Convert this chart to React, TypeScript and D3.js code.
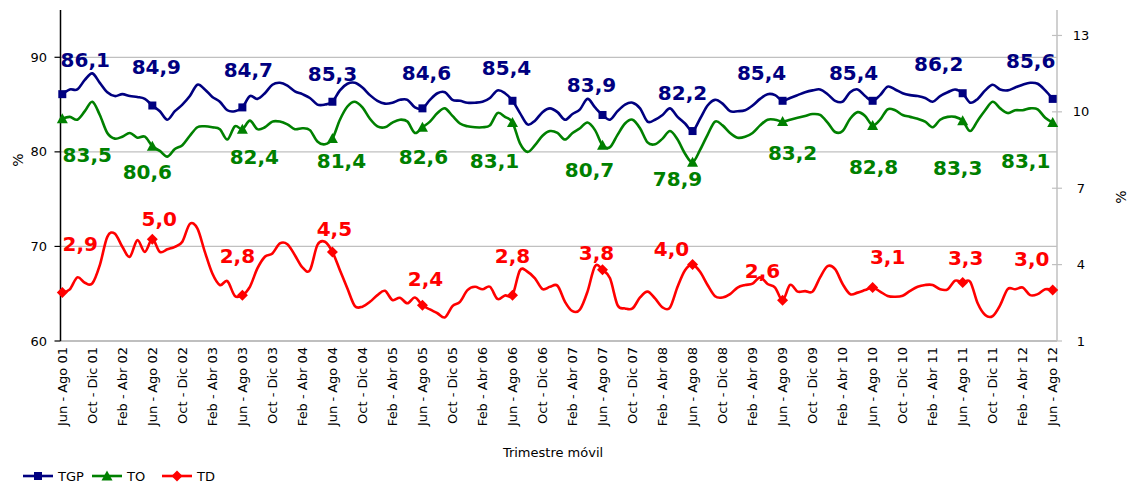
import React from 'react';
import * as d3 from 'd3';

const tickLabels = [
  'Jun - Ago 01', 'Oct - Dic 01', 'Feb - Abr 02', 'Jun - Ago 02', 'Oct - Dic 02', 'Feb - Abr 03',
  'Jun - Ago 03', 'Oct - Dic 03', 'Feb - Abr 04', 'Jun - Ago 04', 'Oct - Dic 04', 'Feb - Abr 05',
  'Jun - Ago 05', 'Oct - Dic 05', 'Feb - Abr 06', 'Jun - Ago 06', 'Oct - Dic 06', 'Feb - Abr 07',
  'Jun - Ago 07', 'Oct - Dic 07', 'Feb - Abr 08', 'Jun - Ago 08', 'Oct - Dic 08', 'Feb - Abr 09',
  'Jun - Ago 09', 'Oct - Dic 09', 'Feb - Abr 10', 'Jun - Ago 10', 'Oct - Dic 10', 'Feb - Abr 11',
  'Jun - Ago 11', 'Oct - Dic 11', 'Feb - Abr 12', 'Jun - Ago 12',
];

const leftTicks = [60, 70, 80, 90];
const rightTicks = [1, 4, 7, 10, 13];

const tgp = [
  86.1, 86.6, 86.6, 87.6, 88.3, 87.3, 86.3, 85.9, 86.1, 85.9, 85.8, 85.6,
  84.9, 84.3, 83.4, 84.3, 85.0, 85.9, 87.1, 86.6, 85.8, 85.3, 84.4, 84.3,
  84.7, 85.9, 85.6, 86.2, 87.1, 87.3, 87.0, 86.4, 86.1, 85.7, 85.0, 85.0,
  85.3, 86.5, 87.2, 87.3, 86.8, 86.0, 85.4, 85.1, 85.2, 85.5, 85.5, 84.7,
  84.6, 85.5, 86.2, 86.3, 85.5, 85.4, 85.2, 85.2, 85.3, 85.7, 86.5, 86.2,
  85.4, 84.1, 82.9, 83.3, 84.2, 84.6, 84.2, 83.4, 84.0, 84.5, 85.6, 84.7,
  83.9, 83.4, 84.3, 85.0, 85.2, 84.6, 83.2, 83.4, 83.9, 84.6, 83.7, 83.0,
  82.2, 83.5, 84.9, 85.5, 85.1, 84.3, 84.3, 84.4, 84.9, 85.6, 86.1, 86.0,
  85.4, 85.7, 86.0, 86.3, 86.5, 86.6, 86.1, 85.4, 85.3, 86.3, 86.6, 85.9,
  85.4, 86.0, 86.9, 86.6, 86.2, 86.0, 85.9, 85.7, 85.3, 85.9, 86.3, 86.6,
  86.2, 85.2, 85.6, 86.5, 87.1, 86.6, 86.5, 86.8, 87.1, 87.3, 87.2, 86.5,
  85.6,
];

const to = [
  83.5, 83.7, 83.4, 84.3, 85.3, 83.9, 82.0, 81.4, 81.6, 82.0, 81.5, 81.6,
  80.6, 80.1, 79.5, 80.3, 80.7, 81.7, 82.6, 82.7, 82.6, 82.4, 81.3, 82.7,
  82.4, 83.3, 82.4, 82.6, 83.2, 83.2, 82.9, 82.4, 82.5, 82.3, 81.1, 80.8,
  81.4, 83.4, 84.8, 85.3, 84.7, 83.5, 82.7, 82.6, 83.1, 83.4, 83.2, 82.0,
  82.6, 83.2, 84.1, 84.6, 83.8, 83.0, 82.7, 82.6, 82.6, 82.8, 84.1, 83.7,
  83.1, 80.9, 80.0, 80.7, 81.7, 82.2, 82.0, 81.3, 82.0, 82.5, 83.1, 82.3,
  80.7, 80.5, 81.8, 83.0, 83.4, 82.5, 81.0, 80.8, 81.4, 82.2, 81.3, 79.8,
  78.9, 80.2, 81.8, 83.2, 82.8, 82.0, 81.5, 81.6, 82.0, 82.8, 83.4, 83.4,
  83.2, 83.4, 83.6, 83.8, 84.0, 83.9, 83.1, 82.1, 82.2, 83.5, 84.2, 83.8,
  82.8, 83.4, 84.5, 84.4, 83.9, 83.7, 83.5, 83.2, 82.6, 83.4, 83.7, 83.7,
  83.3, 82.2, 83.3, 84.4, 85.3, 84.6, 84.1, 84.4, 84.4, 84.6, 84.5, 83.6,
  83.1,
];

const td = [
  2.9, 3.03, 3.5, 3.29, 3.26, 3.98, 5.09, 5.22, 4.7, 4.31, 4.96, 4.5,
  5.0, 4.5, 4.6, 4.7, 4.9, 5.6, 5.42, 4.5, 3.65, 3.2, 3.35, 2.77,
  2.8, 3.13, 3.85, 4.31, 4.44, 4.83, 4.8, 4.37, 3.89, 3.78, 4.77, 4.9,
  4.5, 3.78, 3.06, 2.37, 2.35, 2.54, 2.8, 2.97, 2.61, 2.7, 2.48, 2.71,
  2.4, 2.24, 2.09, 1.93, 2.37, 2.54, 3.0, 3.13, 3.03, 3.13, 2.65, 2.79,
  2.8, 3.78, 3.72, 3.46, 3.04, 3.13, 3.17, 2.54, 2.17, 2.24, 2.94, 3.94,
  3.8, 3.46, 2.41, 2.28, 2.28, 2.71, 2.94, 2.67, 2.32, 2.32, 3.13, 3.78,
  4.0, 3.72, 3.2, 2.76, 2.71, 2.84, 3.1, 3.2, 3.25, 3.5, 3.24, 3.1,
  2.6, 3.2, 2.94, 2.96, 2.94, 3.5, 3.94, 3.82, 3.24, 2.84, 2.9, 3.0,
  3.1, 2.94, 2.77, 2.74, 2.78, 2.97, 3.13, 3.2, 3.2, 3.03, 3.03, 3.37,
  3.3, 3.33, 2.48, 2.02, 1.98, 2.41, 3.04, 3.03, 3.1, 2.8, 2.84, 3.03,
  3.0,
];

// label placement offsets (px) relative to the marker, one per marked point
const tgpLabelOffset = [
  [23, -34], [4, -39], [6, -37], [0, -28], [4, -35], [-6, -33],
  [-11, -30], [-10, -38], [-21, -28], [-19, -28], [-24, -29], [-22, -38],
];
const toLabelOffset = [
  [25, 36], [-5, 26], [12, 28], [9, 22], [1, 30], [-18, 38],
  [-13, 25], [-15, 17], [10, 31], [1, 42], [-5, 47], [-27, 38],
];
const tdLabelOffset = [
  [18, -49], [7, -20], [-5, -39], [2, -23], [3, -26], [0, -39],
  [-6, -17], [-21, -16], [-20, -29], [15, -31], [3, -24], [-21, -31],
];

const NAVY = '#000080';
const GREEN = '#008000';
const RED = '#FF0000';
const GRID = '#c0c0c0';
const FONT = '"DejaVu Sans", Verdana, sans-serif';

const plotLeft = 60.5;
const plotRight = 1057;
const plotTop = 10;
const plotBottom = 341;

const x = d3.scaleLinear().domain([0, tgp.length - 1]).range([62.3, 1052.7]);
const yL = d3.scaleLinear().domain([60, 95]).range([plotBottom, plotTop]);
const yR = d3.scaleLinear().domain([1, 14]).range([plotBottom, plotTop]);

const markerIdx = d3.range(0, tgp.length, 12);
const fmt = (v: number) => d3.format('.1f')(v).replace('.', ',');

function Marker({ kind, cx, cy, color }: { kind: string; cx: number; cy: number; color: string }) {
  if (kind === 'square') {
    return <rect x={cx - 4} y={cy - 4} width={8} height={8} fill={color} />;
  }
  if (kind === 'triangle') {
    return <path d={`M${cx},${cy - 5.5} L${cx + 5.5},${cy + 4.5} L${cx - 5.5},${cy + 4.5} Z`} fill={color} />;
  }
  return <path d={`M${cx},${cy - 5.5} L${cx + 5.5},${cy} L${cx},${cy + 5.5} L${cx - 5.5},${cy} Z`} fill={color} />;
}

function Series({ data, y, color, kind }: any) {
  const line = d3
    .line<number>()
    .x((_, i) => x(i))
    .y((d) => y(d))
    .curve(d3.curveCardinal.tension(0));
  return (
    <g>
      <path d={line(data) || ''} fill="none" stroke={color} strokeWidth={2.6} strokeLinejoin="round" />
      {markerIdx.map((i) => (
        <Marker key={i} kind={kind} cx={x(i)} cy={y(data[i])} color={color} />
      ))}
    </g>
  );
}

function Labels({ data, y, color, offsets }: any) {
  return (
    <g>
      {markerIdx.map((i, k) => {
        const cx = x(i) + offsets[k][0];
        const cy = y(data[i]) + offsets[k][1];
        return (
          <text
            key={i}
            x={cx}
            y={cy}
            textAnchor="middle"
            dominantBaseline="central"
            fill={color}
            fontFamily={FONT}
            fontWeight="bold"
            fontSize={20}
          >
            {fmt(data[i])}
          </text>
        );
      })}
    </g>
  );
}

export default function App() {
  return (
    <svg
      width={1133}
      height={485}
      style={{ position: 'absolute', left: 0, top: 0, background: '#fff' }}
      fontFamily={FONT}
    >
      {/* gridlines */}
      {leftTicks.filter((t) => t !== 60).map((t) => (
        <line key={t} x1={plotLeft} x2={plotRight} y1={yL(t)} y2={yL(t)} stroke={GRID} strokeWidth={1.2} />
      ))}
      {/* axes */}
      <line x1={plotLeft} x2={plotRight} y1={plotBottom} y2={plotBottom} stroke="#808080" strokeWidth={1.2} />
      <line x1={plotRight} x2={plotRight} y1={plotTop} y2={plotBottom} stroke={GRID} strokeWidth={1.5} />
      <line x1={plotLeft} x2={plotLeft} y1={plotTop} y2={plotBottom} stroke="#000" strokeWidth={1.5} />
      {leftTicks.map((t) => (
        <g key={t}>
          <line x1={plotLeft - 6} x2={plotLeft} y1={yL(t)} y2={yL(t)} stroke="#000" strokeWidth={1.2} />
          <text x={47} y={yL(t)} textAnchor="end" dominantBaseline="central" fontSize={13} fill="#000">
            {t}
          </text>
        </g>
      ))}
      {rightTicks.map((t) => (
        <g key={t}>
          <line x1={plotRight - 5} x2={plotRight + 5} y1={yR(t)} y2={yR(t)} stroke={GRID} strokeWidth={1.2} />
          <text x={1081} y={yR(t)} textAnchor="middle" dominantBaseline="central" fontSize={13} fill="#000">
            {t}
          </text>
        </g>
      ))}
      {/* category labels */}
      {tickLabels.map((lab, k) => {
        const px = x(k * 4);
        return (
          <text
            key={lab}
            transform={`translate(${px},${plotBottom + 6}) rotate(-90)`}
            textAnchor="end"
            dominantBaseline="central"
            fontSize={13}
            fill="#000"
          >
            {lab}
          </text>
        );
      })}
      <text x={553} y={457} textAnchor="middle" fontSize={13} fill="#000">
        Trimestre móvil
      </text>
      <text transform="translate(18,160) rotate(-90)" textAnchor="middle" dominantBaseline="central" fontSize={14} fill="#000">
        %
      </text>
      <text transform="translate(1121,197) rotate(-90)" textAnchor="middle" dominantBaseline="central" fontSize={14} fill="#000">
        %
      </text>

      <Series data={td} y={yR} color={RED} kind="diamond" />
      <Series data={to} y={yL} color={GREEN} kind="triangle" />
      <Series data={tgp} y={yL} color={NAVY} kind="square" />

      <Labels data={tgp} y={yL} color={NAVY} offsets={tgpLabelOffset} />
      <Labels data={to} y={yL} color={GREEN} offsets={toLabelOffset} />
      <Labels data={td} y={yR} color={RED} offsets={tdLabelOffset} />

      {/* legend */}
      {[
        { name: 'TGP', color: NAVY, kind: 'square', x0: 23 },
        { name: 'TO', color: GREEN, kind: 'triangle', x0: 92 },
        { name: 'TD', color: RED, kind: 'diamond', x0: 162 },
      ].map((it) => (
        <g key={it.name}>
          <line x1={it.x0} x2={it.x0 + 30} y1={476} y2={476} stroke={it.color} strokeWidth={2.6} />
          <Marker kind={it.kind} cx={it.x0 + 15} cy={476} color={it.color} />
          <text x={it.x0 + 35} y={476} dominantBaseline="central" fontSize={13} fill="#000">
            {it.name}
          </text>
        </g>
      ))}
    </svg>
  );
}
